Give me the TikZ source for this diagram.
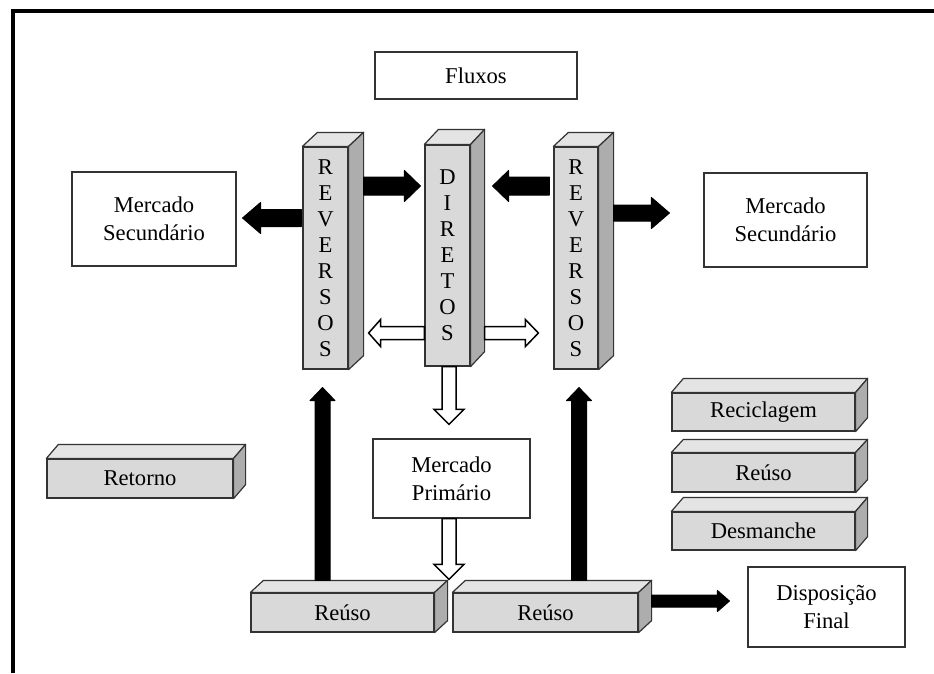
\documentclass[tikz,border=0pt]{standalone}
\usepackage{fontspec}
\setmainfont{Liberation Serif}
\usetikzlibrary{calc}

\definecolor{frontgray}{HTML}{D9D9D9}
\definecolor{topgray}{HTML}{E4E4E4}
\definecolor{sidegray}{HTML}{ADADAD}
\definecolor{edge}{HTML}{333333}

\tikzset{
  txt/.style={font=\fontsize{22.6}{28}\selectfont, align=center, text=black},
  whitebox/.style={txt, draw=edge, line width=1.2pt, fill=white, inner sep=0pt},
  front/.style={txt, draw=edge, line width=1.2pt, fill=frontgray, inner sep=0pt},
  column/.style={front, minimum width=45pt, minimum height=222pt,
    font=\fontsize{22.6}{26}\selectfont},
  slab/.style={front, minimum height=39pt},
  topface/.style={draw=edge, line width=1.2pt, fill=topgray, line join=round},
  sideface/.style={draw=edge, line width=1.2pt, fill=sidegray, line join=round},
  solidarrow/.style={fill=black, draw=black, line width=1pt, line join=round},
  hollowarrow/.style={fill=white, draw=black, line width=1.5pt, line join=miter},
  frame/.style={line width=4pt, draw=black, line join=miter}
}

% top and right faces of a box whose front face is the node #1
\newcommand\boxfaces[3]{%
  \draw[topface] (#1.north west) -- ++(#2,#3) -- ($(#1.north east)+(#2,#3)$)
    -- (#1.north east) -- cycle;
  \draw[sideface] (#1.north east) -- ++(#2,#3) -- ($(#1.south east)+(#2,#3)$)
    -- (#1.south east) -- cycle;}

% block arrow from coordinate #2 to coordinate #3:
% #4 half shaft width, #5 half head width, #6 head length
\newcommand\blockarrow[6]{%
  \coordinate (bk) at ($(#3)!#6!(#2)$);
  \draw[#1] ($(#2)!#4!90:(#3)$) -- ($(bk)!#4!90:(#3)$) -- ($(bk)!#5!90:(#3)$)
    -- (#3) -- ($(bk)!#5!-90:(#3)$) -- ($(bk)!#4!-90:(#3)$)
    -- ($(#2)!#4!-90:(#3)$) -- cycle;}

\begin{document}
\begin{tikzpicture}[x=1pt, y=-1pt]
\useasboundingbox (0,0) rectangle (934,673);
\fill[white] (0,0) rectangle (934,673);

% outer frame
\draw[frame] (13,673) -- (13,11) -- (934,11);

% plain boxes
\node[whitebox, minimum width=202pt, minimum height=47pt] (flux) at (476,75.5) {Fluxos};
\node[whitebox, minimum width=164pt, minimum height=94pt] (msL) at (154,219) {Mercado\\Secundário};
\node[whitebox, minimum width=163pt, minimum height=94pt] (msR) at (785.5,220) {Mercado\\Secundário};
\node[whitebox, minimum width=157pt, minimum height=79pt] (mp) at (451.5,478.5) {Mercado\\Primário};
\node[whitebox, minimum width=157pt, minimum height=80pt] (disp) at (826.5,607) {Disposição\\Final};

% flow columns
\node[column] (revL) at (325.5,258) {R\\E\\V\\E\\R\\S\\O\\S};
\boxfaces{revL}{15}{-14}
\node[column, minimum height=221pt] (dir) at (447.5,255.5) {D\\I\\R\\E\\T\\O\\S};
\boxfaces{dir}{14}{-15}
\node[column, minimum width=44pt] (revR) at (576,258) {R\\E\\V\\E\\R\\S\\O\\S};
\boxfaces{revR}{15}{-14}

% slabs
\node[slab, minimum width=186pt] (ret) at (140,478.5) {Retorno};
\boxfaces{ret}{12}{-14}
\node[slab, minimum width=183pt, minimum height=38pt] (recic) at (763.5,412) {Reciclagem};
\boxfaces{recic}{12}{-14}
\node[slab, minimum width=183pt] (reuso) at (763.5,472.5) {Reúso};
\boxfaces{reuso}{12}{-13}
\node[slab, minimum width=183pt, minimum height=38pt] (desm) at (763.5,531) {Desmanche};
\boxfaces{desm}{12}{-14}
\node[slab, minimum width=183pt] (reusoL) at (342.5,612.5) {Reúso};
\boxfaces{reusoL}{13}{-12}
\node[slab, minimum width=185pt] (reusoR) at (545.5,612.5) {Reúso};
\boxfaces{reusoR}{13}{-12}

% solid arrows
\coordinate (a1s) at ($(revL.east)+(15,-72)$);
\coordinate (a1e) at ($(a1s -| dir.west)+(-4,0)$);
\blockarrow{solidarrow}{a1s}{a1e}{9pt}{15.5pt}{16pt}

\coordinate (a2s) at ($(revR.west)+(-4,-72)$);
\coordinate (a2e) at ($(a2s -| dir.east)+(22,0)$);
\blockarrow{solidarrow}{a2s}{a2e}{9pt}{15.5pt}{16pt}

\coordinate (a3s) at ($(revL.west)+(-1,-40)$);
\coordinate (a3e) at ($(a3s -| msL.east)+(6,0)$);
\blockarrow{solidarrow}{a3s}{a3e}{8.5pt}{15.5pt}{18pt}

\coordinate (a4s) at ($(revR.east)+(15,-45)$);
\coordinate (a4e) at ($(a4s -| msR.west)+(-34,0)$);
\blockarrow{solidarrow}{a4s}{a4e}{8pt}{15.5pt}{18pt}

\coordinate (a5s) at ($(reusoL.north -| revL.south)+(-3,-12)$);
\coordinate (a5e) at ($(revL.south)+(-3,18)$);
\blockarrow{solidarrow}{a5s}{a5e}{7.5pt}{12.5pt}{13pt}

\coordinate (a6s) at ($(reusoR.north -| revR.south)+(3,-12)$);
\coordinate (a6e) at ($(revR.south)+(3,18)$);
\blockarrow{solidarrow}{a6s}{a6e}{7.5pt}{12.5pt}{13pt}

\coordinate (a7s) at ($(reusoR.east)+(13,-11.5)$);
\coordinate (a7e) at ($(a7s -| disp.west)+(-18,0)$);
\blockarrow{solidarrow}{a7s}{a7e}{6pt}{10.5pt}{12pt}

% hollow arrows
\coordinate (h1s) at ($(dir.west)+(0,77.5)$);
\coordinate (h1e) at ($(h1s -| revL.east)+(20,0)$);
\blockarrow{hollowarrow}{h1s}{h1e}{6.5pt}{13.5pt}{12pt}

\coordinate (h2s) at ($(dir.east)+(14,77.5)$);
\coordinate (h2e) at ($(h2s -| revR.west)+(-15,0)$);
\blockarrow{hollowarrow}{h2s}{h2e}{6.5pt}{13.5pt}{13pt}

\coordinate (h3s) at ($(dir.south)+(1.5,0)$);
\coordinate (h3e) at ($(h3s |- mp.north)+(0,-14)$);
\blockarrow{hollowarrow}{h3s}{h3e}{7pt}{15pt}{15pt}

\coordinate (h4s) at ($(mp.south)+(-2.5,0)$);
\coordinate (h4e) at ($(h4s |- reusoL.north)+(0,-13)$);
\blockarrow{hollowarrow}{h4s}{h4e}{7pt}{15pt}{15pt}
\end{tikzpicture}
\end{document}
